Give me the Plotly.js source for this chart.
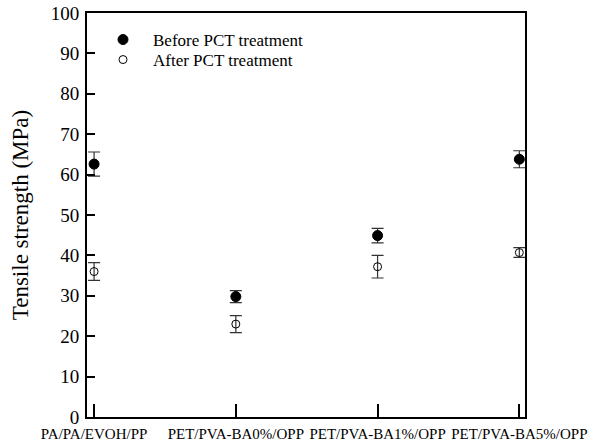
<!DOCTYPE html>
<html>
<head>
<meta charset="utf-8">
<script src="https://cdn.plot.ly/plotly-3.0.1.min.js"></script>
<style>html,body{margin:0;padding:0;background:#fff;}#chart{width:595px;height:443px;}</style>
</head>
<body>
<div id="chart"></div>
<script>
var categories = ["PA/PA/EVOH/PP", "PET/PVA-BA0%/OPP", "PET/PVA-BA1%/OPP", "PET/PVA-BA5%/OPP"];
var beforeValues = [62.6, 29.8, 44.9, 63.8];
var beforeErrors = [3.0, 1.5, 1.8, 2.1];
var afterValues = [36.0, 23.0, 37.2, 40.7];
var afterErrors = [2.2, 2.1, 2.8, 1.2];
var yTicks = [0, 10, 20, 30, 40, 50, 60, 70, 80, 90, 100];

var xIdx = categories.map(function (c, i) { return i; });
var font = "Liberation Serif";

var traces = [
  {
    x: xIdx, y: beforeValues, name: "Before PCT treatment", type: "scatter", mode: "markers",
    legend: "legend",
    marker: {symbol: "circle", size: 10, color: "#000000", line: {color: "#000000", width: 1}},
    error_y: {type: "data", array: beforeErrors, visible: true, color: "#333333", thickness: 1.2, width: 6}
  },
  {
    x: xIdx, y: afterValues, name: "After PCT treatment", type: "scatter", mode: "markers",
    legend: "legend2",
    marker: {symbol: "circle-open", size: 8, color: "#000000", line: {color: "#000000", width: 1}},
    error_y: {type: "data", array: afterErrors, visible: true, color: "#333333", thickness: 1.2, width: 6}
  }
];

var legendBase = {xanchor: "left", yanchor: "middle", bgcolor: "rgba(0,0,0,0)",
  font: {family: font, size: 17, color: "#000000"}, itemwidth: 50, borderwidth: 0};

var layout = {
  width: 595, height: 443,
  margin: {l: 87, r: 70, t: 13, b: 26},
  paper_bgcolor: "#ffffff", plot_bgcolor: "#ffffff",
  font: {family: font, color: "#000000"},
  showlegend: true,
  legend: Object.assign({}, legendBase, {x: 0.0137, y: 1 - (40 - 13) / 404}),
  legend2: Object.assign({}, legendBase, {x: 0.0137, y: 1 - (60 - 13) / 404}),
  xaxis: {
    range: [-0.05, 3.04], tickmode: "array", tickvals: xIdx, ticktext: categories,
    ticks: "inside", ticklen: 13, tickwidth: 2, tickcolor: "#000000",
    showline: true, linewidth: 2, linecolor: "#000000", mirror: true,
    showgrid: false, zeroline: false, tickfont: {family: font, size: 15, color: "#000000"},
    ticklabelstandoff: 2
  },
  yaxis: {
    range: [0, 100], tickmode: "array", tickvals: yTicks,
    ticks: "inside", ticklen: 8, tickwidth: 2, tickcolor: "#000000",
    showline: true, linewidth: 2, linecolor: "#000000", mirror: true,
    showgrid: false, zeroline: false, tickfont: {family: font, size: 19, color: "#000000"},
    ticklabelstandoff: 2,
    title: {text: "Tensile strength (MPa)", font: {family: font, size: 23, color: "#000000"}, standoff: 16}
  }
};

Plotly.newPlot("chart", traces, layout, {displayModeBar: false, staticPlot: true});
</script>
</body>
</html>
